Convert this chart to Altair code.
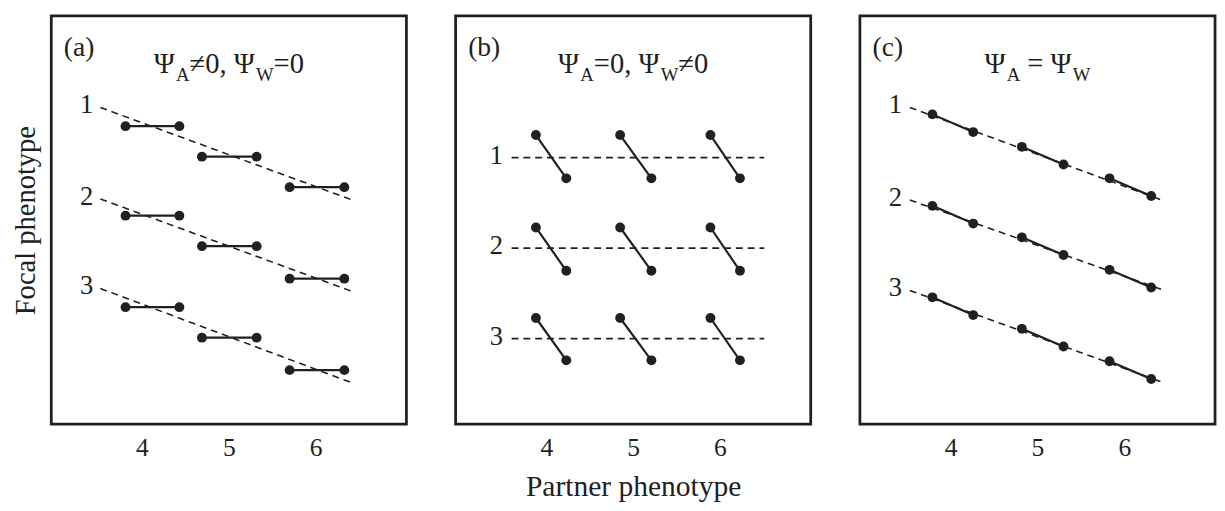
import altair as alt
import pandas as pd

FONT = "Liberation Serif"
INK = "#231f20"

# ---------------- data ----------------
x_ticks = [4, 5, 6]
x_domain = [2.955, 7.045]
y_domain = [0, 8.3]
row_labels = ["1", "2", "3"]
panel_tags = ["(a)", "(b)", "(c)"]

# Panel (a): horizontal segments along sloped dashed lines
a_left_x = [3.81, 4.69, 5.70]
a_right_x = [4.43, 5.32, 6.33]
a_rows_y = [[6.06, 5.44, 4.82], [4.24, 3.62, 2.96], [2.38, 1.76, 1.10]]
a_dash_x = [3.52, 6.42]
a_dash_start_y = [6.44, 4.58, 2.76]
a_dash_end_y = [4.56, 2.70, 0.84]
a_label_x = 3.44

# Panel (b): steep segments across flat dashed lines
b_upper_x = [3.88, 4.85, 5.89]
b_lower_x = [4.23, 5.21, 6.23]
b_upper_y = [5.88, 4.00, 2.16]
b_lower_y = [5.00, 3.12, 1.30]
b_dash_x = [3.60, 6.51]
b_dash_y = [5.42, 3.58, 1.74]
b_label_x = 3.50

# Panel (c): segments lying on the sloped dashed lines
c_x = [3.79, 4.26, 4.82, 5.30, 5.83, 6.31]
c_rows_y = [[6.30, 5.94, 5.64, 5.28, 5.00, 4.64],
            [4.44, 4.08, 3.80, 3.44, 3.14, 2.78],
            [2.58, 2.22, 1.94, 1.58, 1.28, 0.92]]
c_dash_x = [3.53, 6.46]
c_dash_start_y = [6.44, 4.56, 2.72]
c_dash_end_y = [4.54, 2.72, 0.84]
c_label_x = 3.44

# panel titles, split into normal / subscript parts
a_title = [("Ψ", False), ("A", True), ("≠0, Ψ", False), ("W", True), ("=0", False)]
b_title = [("Ψ", False), ("A", True), ("=0, Ψ", False), ("W", True), ("≠0", False)]
c_title = [("Ψ", False), ("A", True), (" = Ψ", False), ("W", True)]

tag_x = 3.10
tag_y = 7.48
title_y_main = 7.14
title_y_sub = 6.98

# ---------------- layout ----------------
PW, PH = 361, 415
PX_PER_UNIT = PW / (x_domain[1] - x_domain[0])
FS_MAIN, FS_SUB = 29, 19
FS_TAG = 28
GLYPH_W = {"Ψ": 0.78, "A": 0.722, "W": 0.944, "≠": 0.549, "=": 0.564,
           "0": 0.5, ",": 0.25, " ": 0.25}


def title_rows(parts, center=5.0):
    widths = []
    for t, sub in parts:
        fs = FS_SUB if sub else FS_MAIN
        widths.append(sum(GLYPH_W[ch] for ch in t) * fs)
    pos = -sum(widths) / 2
    rows = []
    for (t, sub), w in zip(parts, widths):
        fs = FS_SUB if sub else FS_MAIN
        lead = len(t) - len(t.lstrip(" "))
        start = pos + lead * GLYPH_W[" "] * fs
        rows.append(dict(x=center + start / PX_PER_UNIT,
                         y=title_y_sub if sub else title_y_main,
                         text=t.strip(" "), fs=fs))
        pos += w
    return rows


def encodings(panel):
    if panel == 1:
        xax = alt.X("x:Q", scale=alt.Scale(domain=x_domain, nice=False, zero=False),
                    axis=alt.Axis(values=x_ticks, ticks=False, domain=False, grid=False,
                                  labelFont=FONT, labelFontSize=26, labelColor=INK,
                                  labelPadding=11, titlePadding=11),
                    title="Partner phenotype")
    else:
        xax = alt.X("x:Q", scale=alt.Scale(domain=x_domain, nice=False, zero=False),
                    axis=alt.Axis(values=x_ticks, ticks=False, domain=False, grid=False,
                                  labelFont=FONT, labelFontSize=26, labelColor=INK,
                                  labelPadding=11),
                    title=None)
    if panel == 0:
        yax = alt.Y("y:Q", scale=alt.Scale(domain=y_domain, nice=False, zero=False),
                    axis=alt.Axis(labels=False, ticks=False, domain=False, grid=False,
                                  titlePadding=11, titleFontSize=29),
                    title="Focal phenotype")
    else:
        yax = alt.Y("y:Q", scale=alt.Scale(domain=y_domain, nice=False, zero=False),
                    axis=None)
    return xax, yax


def panel_chart(panel, dash_df, seg_df, pts_df, lbl_df, txt_df):
    X, Y = encodings(panel)
    dash = alt.Chart(dash_df).mark_line(
        strokeDash=[7, 5], strokeWidth=1.6, color=INK
    ).encode(x=X, y=Y, detail="line:N")
    seg = alt.Chart(seg_df).mark_rule(strokeWidth=2.2, color=INK).encode(
        x=X, y=Y, x2=alt.X2("x2:Q"), y2=alt.Y2("y2:Q"))
    pts = alt.Chart(pts_df).mark_circle(size=100, color=INK, opacity=1).encode(x=X, y=Y)
    lbl = alt.Chart(lbl_df).mark_text(
        font=FONT, fontSize=27, color=INK, align="right", baseline="middle", dy=-2
    ).encode(x=X, y=Y, text="text:N")
    txt = alt.Chart(txt_df).mark_text(
        font=FONT, color=INK, align="left", baseline="alphabetic"
    ).encode(x=X, y=Y, text="text:N", size=alt.Size("fs:Q", scale=None, legend=None))
    return alt.layer(dash, seg, pts, lbl, txt).properties(width=PW, height=PH)


# ---------- panel (a) ----------
a_dash = pd.DataFrame(
    [dict(line=i, x=a_dash_x[0], y=a_dash_start_y[i]) for i in range(3)]
    + [dict(line=i, x=a_dash_x[1], y=a_dash_end_y[i]) for i in range(3)])
a_seg = pd.DataFrame([dict(x=a_left_x[j], x2=a_right_x[j], y=a_rows_y[i][j], y2=a_rows_y[i][j])
                      for i in range(3) for j in range(3)])
a_pts = pd.DataFrame([dict(x=xx, y=a_rows_y[i][j]) for i in range(3) for j in range(3)
                      for xx in (a_left_x[j], a_right_x[j])])
a_lbl = pd.DataFrame(dict(x=[a_label_x] * 3, y=a_dash_start_y, text=row_labels))
a_txt = pd.DataFrame([dict(x=tag_x, y=tag_y, text=panel_tags[0], fs=FS_TAG)] + title_rows(a_title))

# ---------- panel (b) ----------
b_dash = pd.DataFrame(
    [dict(line=i, x=b_dash_x[0], y=b_dash_y[i]) for i in range(3)]
    + [dict(line=i, x=b_dash_x[1], y=b_dash_y[i]) for i in range(3)])
b_seg = pd.DataFrame([dict(x=b_upper_x[j], x2=b_lower_x[j], y=b_upper_y[i], y2=b_lower_y[i])
                      for i in range(3) for j in range(3)])
b_pts = pd.DataFrame([dict(x=b_upper_x[j], y=b_upper_y[i]) for i in range(3) for j in range(3)]
                     + [dict(x=b_lower_x[j], y=b_lower_y[i]) for i in range(3) for j in range(3)])
b_lbl = pd.DataFrame(dict(x=[b_label_x] * 3, y=b_dash_y, text=row_labels))
b_txt = pd.DataFrame([dict(x=tag_x, y=tag_y, text=panel_tags[1], fs=FS_TAG)] + title_rows(b_title))

# ---------- panel (c) ----------
c_dash = pd.DataFrame(
    [dict(line=i, x=c_dash_x[0], y=c_dash_start_y[i]) for i in range(3)]
    + [dict(line=i, x=c_dash_x[1], y=c_dash_end_y[i]) for i in range(3)])
c_seg = pd.DataFrame([dict(x=c_x[2 * j], x2=c_x[2 * j + 1],
                           y=c_rows_y[i][2 * j], y2=c_rows_y[i][2 * j + 1])
                      for i in range(3) for j in range(3)])
c_pts = pd.DataFrame([dict(x=c_x[k], y=c_rows_y[i][k]) for i in range(3) for k in range(6)])
c_lbl = pd.DataFrame(dict(x=[c_label_x] * 3, y=c_dash_start_y, text=row_labels))
c_txt = pd.DataFrame([dict(x=tag_x, y=tag_y, text=panel_tags[2], fs=FS_TAG)] + title_rows(c_title))

pa = panel_chart(0, a_dash, a_seg, a_pts, a_lbl, a_txt)
pb = panel_chart(1, b_dash, b_seg, b_pts, b_lbl, b_txt)
pc = panel_chart(2, c_dash, c_seg, c_pts, c_lbl, c_txt)

chart = alt.hconcat(pa, pb, pc, spacing=46).properties(
    padding={"left": 2, "top": 2, "right": 0, "bottom": 0},
    background="white"
).configure_view(
    stroke=INK, strokeWidth=2.8
).configure_axis(
    titleFont=FONT, titleFontWeight="normal", titleColor=INK, titleFontSize=30,
    labelFont=FONT, labelColor=INK
)

chart.save("out.html", embed_options={"renderer": "svg", "actions": False})
